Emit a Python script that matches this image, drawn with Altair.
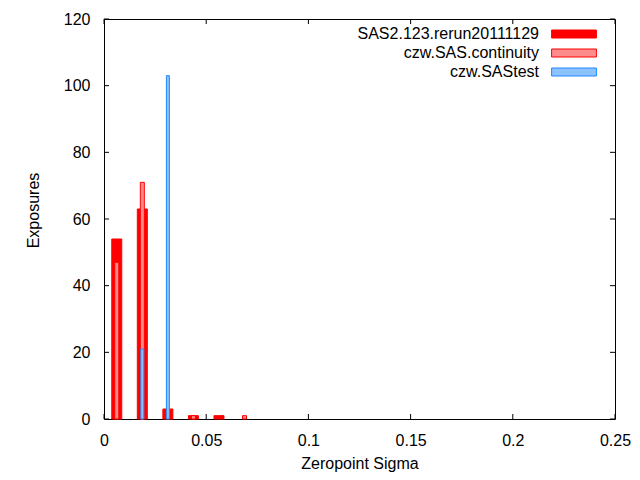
import altair as alt
import pandas as pd

# Bin centers (Zeropoint Sigma) and counts per run
bin_centers = [0.00625, 0.01875, 0.03125, 0.04375, 0.05625, 0.06875]
sas2_counts = [54, 63, 3, 1, 1, 0]
continuity_counts = [47, 71, 0, 1, 0, 1]
sastest_counts = [0, 21, 103, 0, 0, 0]

series_names = ["SAS2.123.rerun20111129", "czw.SAS.continuity", "czw.SAStest"]
fill_colors = ["#ff0000", "#ff8c8c", "#8cc2ff"]
stroke_colors = ["#ff0000", "#ff0000", "#1e88ff"]

x_ticks = [0, 0.05, 0.1, 0.15, 0.2, 0.25]
y_ticks = [0, 20, 40, 60, 80, 100, 120]

W, H = 511, 400
FONT = "Liberation Sans"
FS = 16

rows = []
for name, counts in zip(series_names, [sas2_counts, continuity_counts, sastest_counts]):
    for c, v in zip(bin_centers, counts):
        if v > 0:
            rows.append({"series": name, "sigma": c, "count": v})
df = pd.DataFrame(rows)

xscale = alt.Scale(domain=[0, 0.25], nice=False, zero=False, padding=0)
yscale = alt.Scale(domain=[0, 120], nice=False, padding=0)
fill_scale = alt.Scale(domain=series_names, range=fill_colors)
stroke_scale = alt.Scale(domain=series_names, range=stroke_colors)

legend = alt.Legend(
    title=None,
    orient="none",
    legendX=462,
    legendY=7,
    symbolType="M-5.6,-1 L5.6,-1 L5.6,1 L-5.6,1 Z",
    symbolSize=64,
    symbolStrokeWidth=1,
    labelOffset={"expr": "-43"},
    labelAlign="right",
    labelLimit=400,
    labelFont=FONT,
    labelFontSize=FS,
    labelColor="#000000",
    rowPadding=3,
    padding=0,
)

x_axis = alt.Axis(
    values=x_ticks,
    title="Zeropoint Sigma",
    ticks=False,
    domain=False,
    grid=False,
    labelFlush=False,
    labelPadding=13,
    labelFont=FONT,
    labelFontSize=FS,
    labelColor="#000000",
    labelExpr="datum.value == 0 ? '0' : format(datum.value, '~g')",
    titleFont=FONT,
    titleFontSize=FS,
    titleFontWeight="normal",
    titleColor="#000000",
    titleY=49,
    titleBaseline="alphabetic",
)
y_axis = alt.Axis(
    values=y_ticks,
    title="Exposures",
    ticks=False,
    domain=False,
    grid=False,
    labelFlush=False,
    labelPadding=14,
    labelFont=FONT,
    labelFontSize=FS,
    labelColor="#000000",
    titleFont=FONT,
    titleFontSize=FS,
    titleFontWeight="normal",
    titleColor="#000000",
    titleAngle=270,
    titleX=-71,
    titleY=191,
    titleAlign="center",
    titleBaseline="middle",
)

base = alt.Chart(df)

def bars(name, size):
    return base.transform_filter(alt.datum.series == name).mark_bar(
        size=size, strokeWidth=1
    ).encode(
        x=alt.X("sigma:Q", scale=xscale, axis=x_axis, title="Zeropoint Sigma"),
        y=alt.Y("count:Q", scale=yscale, axis=y_axis, title="Exposures"),
        fill=alt.Fill("series:N", scale=fill_scale, legend=legend),
        stroke=alt.Stroke("series:N", scale=stroke_scale, legend=legend),
    )

layer_sas2 = bars(series_names[0], 10)
layer_cont = bars(series_names[1], 4)
layer_test = bars(series_names[2], 3)

xt = pd.DataFrame({"t": x_ticks})
yt = pd.DataFrame({"t": y_ticks})

xenc = alt.X("t:Q", scale=xscale, axis=x_axis, title="Zeropoint Sigma")
yenc = alt.Y("t:Q", scale=yscale, axis=y_axis, title="Exposures")

x_tick_bottom = alt.Chart(xt).mark_rule(color="black", strokeWidth=1).encode(
    x=xenc, y=alt.value(H), y2=alt.value(H - 5)
)
x_tick_top = alt.Chart(xt).mark_rule(color="black", strokeWidth=1).encode(
    x=xenc, y=alt.value(0), y2=alt.value(5)
)
y_tick_left = alt.Chart(yt).mark_rule(color="black", strokeWidth=1).encode(
    y=yenc, x=alt.value(0), x2=alt.value(5)
)
y_tick_right = alt.Chart(yt).mark_rule(color="black", strokeWidth=1).encode(
    y=yenc, x=alt.value(W - 5), x2=alt.value(W)
)

chart = alt.layer(
    layer_sas2, layer_cont, layer_test,
    x_tick_bottom, x_tick_top, y_tick_left, y_tick_right,
).resolve_scale(fill="shared", stroke="shared").properties(
    width=W,
    height=H,
    autosize=alt.AutoSizeParams(type="none"),
    padding={"left": 96, "top": 11, "right": 17, "bottom": 53},
    background="white",
).configure_view(
    stroke="black", strokeWidth=1
)

chart.save("out.html", embed_options={"renderer": "svg", "actions": False})
